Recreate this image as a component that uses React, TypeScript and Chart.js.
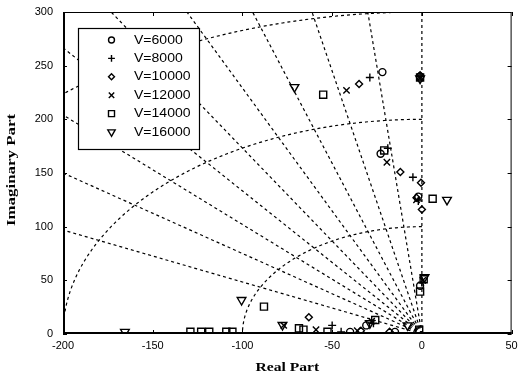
import React, { useEffect, useRef } from 'react';
import { Chart, registerables } from 'chart.js';

Chart.register(...registerables);

// Axis setup
const X_MIN = -200;
const X_MAX = 50;
const Y_MIN = 0;
const Y_MAX = 300;
const X_TICKS = [-200, -150, -100, -50, 0, 50];
const Y_TICKS = [0, 50, 100, 150, 200, 250, 300];

// s-plane grid (damping ratios and natural frequencies)
const ZETA = [0, 0.1, 0.2, 0.3, 0.4, 0.5, 0.6, 0.7, 0.8, 0.9];
const WN = [100, 200, 300];

// Series labels and markers
const LABELS = ['V=6000', 'V=8000', 'V=10000', 'V=12000', 'V=14000', 'V=16000'];
const STYLES = ['circle', 'cross', 'rectRot', 'crossRot', 'rect', 'triangle'];
const RADII = [3.5, 4, 3.5, 4.5, 5, 5];
const ROTATIONS = [0, 0, 0, 0, 0, 180];

// Poles (real part, imaginary part) per speed
const V6000_RE = [-22, -23, -1, -2, -1, -31, -15, -40];
const V6000_IM = [244, 168, 240, 128, 45, 8, 2, 2];

const V8000_RE = [-29, -19, -5, -2, -1, 0, -50, -27, -45];
const V8000_IM = [239, 173, 146, 124, 240, 48, 8, 10, 2];

const V10000_RE = [-35, -12, -0.5, 0, -3, -1, -63, -34, -18];
const V10000_IM = [233, 151, 141, 116, 127, 241, 15.5, 3, 2];

const V12000_RE = [-42, -19.5, -3, -1, 0.5, -77, -59, -28, -36];
const V12000_IM = [227, 160, 125, 239, 50, 8, 4, 12, 3];

const V14000_RE = [-55, -21, 6, -1, 1, -1, -88, -68.5, -66, -52.6, -26, -1.5, -105.6, -109, -118.5, -123, -129];
const V14000_IM = [223, 171, 126, 239, 51, 39.5, 25.5, 5.3, 4, 2, 13, 4, 2, 2, 2, 2, 2];

const V16000_RE = [-71, 14, -1, 1.5, -100.5, -77.7, -165.5, -29, -8];
const V16000_IM = [230, 125, 238, 53, 31.7, 8.4, 2, 10, 8];

const SERIES_RE = [V6000_RE, V8000_RE, V10000_RE, V12000_RE, V14000_RE, V16000_RE];
const SERIES_IM = [V6000_IM, V8000_IM, V10000_IM, V12000_IM, V14000_IM, V16000_IM];

const SANS = '"Liberation Sans", Arial, sans-serif';
const SERIF = '"Liberation Serif", "Times New Roman", serif';

function drawMarker(ctx: CanvasRenderingContext2D, style: string, x: number, y: number, r: number, rot: number) {
  ctx.beginPath();
  if (style === 'circle') {
    ctx.arc(x, y, r, 0, Math.PI * 2);
  } else if (style === 'cross') {
    ctx.moveTo(x - r, y); ctx.lineTo(x + r, y);
    ctx.moveTo(x, y - r); ctx.lineTo(x, y + r);
  } else if (style === 'crossRot') {
    const s = r * Math.SQRT1_2;
    ctx.moveTo(x - s, y - s); ctx.lineTo(x + s, y + s);
    ctx.moveTo(x - s, y + s); ctx.lineTo(x + s, y - s);
  } else if (style === 'rectRot') {
    ctx.moveTo(x, y - r); ctx.lineTo(x + r, y); ctx.lineTo(x, y + r); ctx.lineTo(x - r, y); ctx.closePath();
  } else if (style === 'rect') {
    const s = r * Math.SQRT1_2;
    ctx.rect(x - s, y - s, 2 * s, 2 * s);
  } else if (style === 'triangle') {
    const a0 = (rot * Math.PI) / 180;
    for (let i = 0; i < 3; i++) {
      const a = a0 + (i * 2 * Math.PI) / 3;
      const px = x + Math.sin(a) * r;
      const py = y - Math.cos(a) * r;
      if (i === 0) ctx.moveTo(px, py); else ctx.lineTo(px, py);
    }
    ctx.closePath();
  }
  ctx.stroke();
}

const sgridPlugin = {
  id: 'sgrid',
  beforeDatasetsDraw(chart: any) {
    const { ctx, chartArea } = chart;
    const xs = chart.scales.x;
    const ys = chart.scales.y;
    ctx.save();
    ctx.beginPath();
    ctx.rect(chartArea.left, chartArea.top, chartArea.right - chartArea.left, chartArea.bottom - chartArea.top);
    ctx.clip();
    ctx.strokeStyle = '#000';
    ctx.lineWidth = 1.2;
    ctx.setLineDash([3, 3]);
    const R = 500;
    ZETA.forEach((z) => {
      ctx.beginPath();
      ctx.moveTo(xs.getPixelForValue(0), ys.getPixelForValue(0));
      ctx.lineTo(xs.getPixelForValue(-R * z), ys.getPixelForValue(R * Math.sqrt(1 - z * z)));
      ctx.stroke();
    });
    WN.forEach((w) => {
      ctx.beginPath();
      const n = 120;
      for (let i = 0; i <= n; i++) {
        const t = Math.PI / 2 + (i / n) * (Math.PI / 2);
        const px = xs.getPixelForValue(w * Math.cos(t));
        const py = ys.getPixelForValue(w * Math.sin(t));
        if (i === 0) ctx.moveTo(px, py); else ctx.lineTo(px, py);
      }
      ctx.stroke();
    });
    ctx.restore();
  },
  afterDraw(chart: any) {
    const { ctx, chartArea } = chart;
    const xs = chart.scales.x;
    const ys = chart.scales.y;
    const { left, right, top, bottom } = chartArea;
    ctx.save();
    ctx.setLineDash([]);
    ctx.strokeStyle = '#000';
    // frame
    ctx.lineWidth = 1;
    ctx.strokeRect(left + 0.5, top + 0.5, right - left - 1, bottom - top - 1);
    ctx.lineWidth = 2;
    ctx.beginPath();
    ctx.moveTo(left + 1, top);
    ctx.lineTo(left + 1, bottom - 1);
    ctx.lineTo(right, bottom - 1);
    ctx.stroke();
    // inward ticks
    ctx.lineWidth = 1;
    const tl = 4;
    X_TICKS.forEach((v) => {
      const px = Math.round(xs.getPixelForValue(v)) + 0.5;
      ctx.beginPath();
      ctx.moveTo(px, bottom); ctx.lineTo(px, bottom - tl);
      ctx.moveTo(px, top); ctx.lineTo(px, top + tl);
      ctx.stroke();
    });
    Y_TICKS.forEach((v) => {
      const py = Math.round(ys.getPixelForValue(v)) + 0.5;
      ctx.beginPath();
      ctx.moveTo(left, py); ctx.lineTo(left + tl, py);
      ctx.moveTo(right, py); ctx.lineTo(right - tl, py);
      ctx.stroke();
    });

    // legend
    const lx = 78, ly = 28, lw = 121, lh = 121;
    ctx.fillStyle = '#fff';
    ctx.fillRect(lx, ly, lw, lh);
    ctx.lineWidth = 1.2;
    ctx.strokeRect(lx + 0.5, ly + 0.5, lw, lh);
    ctx.font = '13px ' + SANS;
    ctx.fillStyle = '#000';
    ctx.textBaseline = 'middle';
    ctx.textAlign = 'left';
    chart.data.datasets.forEach((ds: any, i: number) => {
      const ry = 40 + i * 18.4;
      ctx.lineWidth = 1.4;
      drawMarker(ctx, STYLES[i], 111.5, ry, RADII[i] * 0.85, ROTATIONS[i]);
      ctx.save();
      ctx.translate(134, ry);
      ctx.scale(1.08, 1);
      ctx.fillText(ds.label, 0, 0);
      ctx.restore();
    });

    // axis titles
    ctx.font = 'bold 13px ' + SERIF;
    ctx.textAlign = 'center';
    ctx.textBaseline = 'middle';
    ctx.save();
    ctx.translate((left + right) / 2, 368);
    ctx.scale(1.2, 1);
    ctx.fillText('Real Part', 0, 0);
    ctx.restore();
    ctx.save();
    ctx.translate(12, 170);
    ctx.rotate(-Math.PI / 2);
    ctx.scale(1.3, 1);
    ctx.fillText('Imaginary Part', 0, 0);
    ctx.restore();
    ctx.restore();
  },
};

export default function App() {
  const canvasRef = useRef<HTMLCanvasElement | null>(null);

  useEffect(() => {
    if (!canvasRef.current) return;
    const datasets = LABELS.map((label, i) => ({
      label,
      data: SERIES_RE[i].map((re, j) => ({ x: re, y: SERIES_IM[i][j] })),
      showLine: false,
      pointStyle: STYLES[i],
      pointRadius: RADII[i],
      pointRotation: ROTATIONS[i],
      pointBorderColor: '#000',
      pointBackgroundColor: 'rgba(0,0,0,0)',
      pointBorderWidth: 1.4,
      borderColor: '#000',
      backgroundColor: 'rgba(0,0,0,0)',
    }));
    const chart = new Chart(canvasRef.current, {
      type: 'scatter',
      data: { datasets },
      options: {
        animation: false,
        responsive: false,
        maintainAspectRatio: false,
        layout: { padding: { top: 12, right: 6, left: 0, bottom: 0 } },
        plugins: { legend: { display: false }, tooltip: { enabled: false } },
        scales: {
          x: {
            type: 'linear',
            min: X_MIN,
            max: X_MAX,
            afterFit: (s: any) => { s.height = 44; s.paddingLeft = 0; s.paddingRight = 0; },
            afterBuildTicks: (s: any) => { s.ticks = X_TICKS.map((v) => ({ value: v })); },
            grid: { display: false, drawTicks: false },
            border: { display: false },
            ticks: { color: '#000', font: { family: SANS, size: 11 }, padding: 5, autoSkip: false, maxRotation: 0 },
          },
          y: {
            type: 'linear',
            min: Y_MIN,
            max: Y_MAX,
            afterFit: (s: any) => { s.width = 63; s.paddingTop = 0; s.paddingBottom = 0; },
            afterBuildTicks: (s: any) => { s.ticks = Y_TICKS.map((v) => ({ value: v })); },
            grid: { display: false, drawTicks: false },
            border: { display: false },
            ticks: { color: '#000', font: { family: SANS, size: 11 }, padding: 10, autoSkip: false },
          },
        },
      },
      plugins: [sgridPlugin],
    });
    return () => chart.destroy();
  }, []);

  return (
    <div style={{ position: 'fixed', left: 0, top: 0, width: 518, height: 378, background: '#fff' }}>
      <canvas ref={canvasRef} width={518} height={378} />
    </div>
  );
}
